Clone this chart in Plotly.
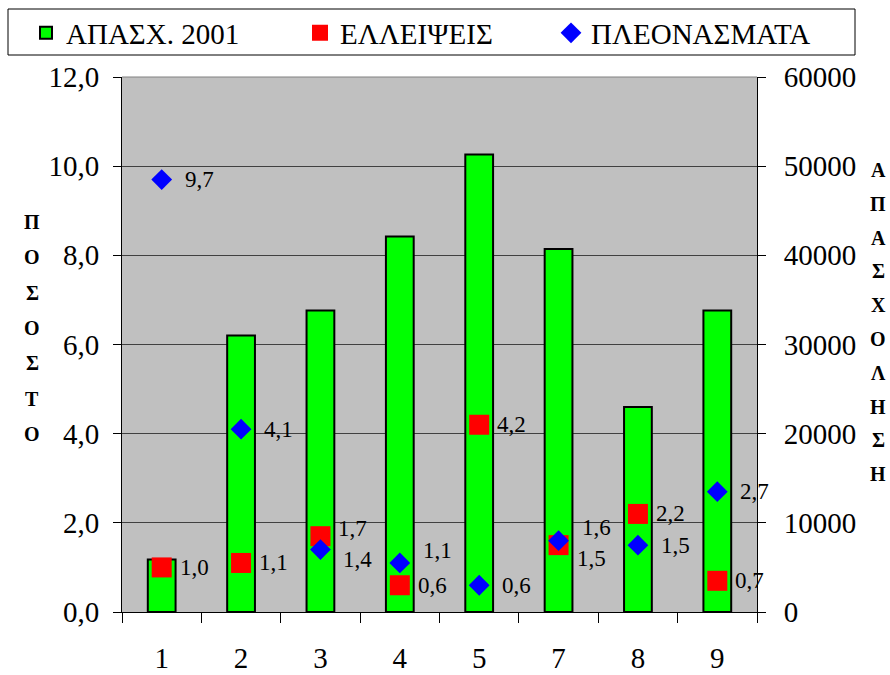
import plotly.graph_objects as go

# categories and series
categories = ["1", "2", "3", "4", "5", "7", "8", "9"]
apasx_2001 = [5900, 31000, 33800, 42100, 51300, 40700, 23000, 33800]
elleipseis = [1.0, 1.1, 1.7, 0.6, 4.2, 1.5, 2.2, 0.7]
pleonasmata = [9.7, 4.1, 1.4, 1.1, 0.6, 1.6, 1.5, 2.7]

left_title = "ΠΟΣΟΣΤΟ"
right_title = "ΑΠΑΣΧΟΛΗΣΗ"

# label nudges (px) where labels of the two series would collide
red_label_dy = [0, 0, 8, 0, 0, -13, 0, 0]
blue_label_dy = [0, 0, -10, 12, 0, 13, 0, 0]

W, H = 890, 675
L, R, T, B = 122, 133, 77, 63
FONT = "Liberation Serif"


def px_x(px):
    return (px - L) / (W - L - R)


def px_y(py):
    return (H - B - py) / (H - T - B)


def fmt(v):
    return f"{v:.1f}".replace(".", ",")


fig = go.Figure()

fig.add_trace(go.Bar(
    x=categories, y=apasx_2001, name="ΑΠΑΣΧ. 2001",
    marker=dict(color="#00FF00", line=dict(color="black", width=2)),
    width=0.35, yaxis="y", legend="legend",
))
fig.add_trace(go.Scatter(
    x=categories, y=elleipseis, name="ΕΛΛΕΙΨΕΙΣ", mode="markers",
    marker=dict(symbol="square", size=20, color="#FF0000"),
    yaxis="y2", legend="legend2",
))
fig.add_trace(go.Scatter(
    x=categories, y=pleonasmata, name="ΠΛΕΟΝΑΣΜΑΤΑ", mode="markers",
    marker=dict(symbol="diamond", size=16, color="#0000FF"),
    yaxis="y2", legend="legend3",
))

annotations = []
for i, (v, dy) in enumerate(zip(elleipseis, red_label_dy)):
    annotations.append(dict(x=i, y=v, xref="x", yref="y2", text=fmt(v),
                            showarrow=False, xanchor="left", yanchor="middle",
                            xshift=16, yshift=dy,
                            font=dict(family=FONT, size=23, color="black")))
for i, (v, dy) in enumerate(zip(pleonasmata, blue_label_dy)):
    annotations.append(dict(x=i, y=v, xref="x", yref="y2", text=fmt(v),
                            showarrow=False, xanchor="left", yanchor="middle",
                            xshift=21, yshift=dy,
                            font=dict(family=FONT, size=23, color="black")))

# stacked axis titles, one letter per line
for i, ch in enumerate(left_title):
    annotations.append(dict(x=px_x(32), y=px_y(222 + i * 35.3), xref="paper", yref="paper",
                            xanchor="center", yanchor="middle",
                            text="<b>" + ch + "</b>", showarrow=False,
                            font=dict(family=FONT, size=20, color="black")))
for i, ch in enumerate(right_title):
    annotations.append(dict(x=px_x(878), y=px_y(170 + i * 33.8), xref="paper", yref="paper",
                            xanchor="center", yanchor="middle",
                            text="<b>" + ch + "</b>", showarrow=False,
                            font=dict(family=FONT, size=20, color="black")))

axis_common = dict(showline=True, linecolor="black", linewidth=1, ticks="outside",
                   tickcolor="black", ticklen=8,
                   tickfont=dict(family=FONT, size=29, color="black"))

legend_common = dict(orientation="h", xanchor="left", yanchor="middle", y=px_y(33),
                     bgcolor="rgba(0,0,0,0)", borderwidth=0,
                     font=dict(family=FONT, size=29, color="black"))

fig.update_layout(
    width=W, height=H,
    margin=dict(l=L, r=R, t=T, b=B, autoexpand=False),
    font=dict(family=FONT, color="black"),
    paper_bgcolor="white", plot_bgcolor="#C0C0C0",
    separators=",.",
    showlegend=True,
    legend=dict(x=px_x(26), **legend_common),
    legend2=dict(x=px_x(300), **legend_common),
    legend3=dict(x=px_x(551), **legend_common),
    xaxis=dict(type="category", range=[-0.5, len(categories) - 0.5],
               showline=True, linecolor="black", ticks="outside",
               tickson="boundaries", ticklen=10, tickcolor="black", ticklabelstandoff=20,
               tickfont=dict(family=FONT, size=29, color="black"), showgrid=False),
    yaxis=dict(side="right", range=[0, 60000], dtick=10000, tickformat="d",
               showgrid=True, gridcolor="#404040", gridwidth=1, zeroline=False,
               ticklabelstandoff=12, **axis_common),
    yaxis2=dict(side="left", overlaying="y", range=[0, 12], dtick=2, tickformat=".1f",
                showgrid=False, zeroline=False, ticklabelstandoff=8, **axis_common),
    annotations=annotations,
    shapes=[
        dict(type="rect", xref="paper", yref="paper", x0=px_x(8), x1=px_x(855),
             y0=px_y(55), y1=px_y(9), line=dict(color="black", width=1),
             fillcolor="rgba(0,0,0,0)", layer="above"),
        dict(type="line", xref="paper", yref="paper", x0=0, x1=1, y0=1, y1=1,
             line=dict(color="#808080", width=1), layer="above"),
    ],
)

# page body has a default 8px margin; drop it so the figure sits at the window corner
fig.write_html("out.html", config={"displayModeBar": False},
               post_script="document.body.style.margin='0';")
